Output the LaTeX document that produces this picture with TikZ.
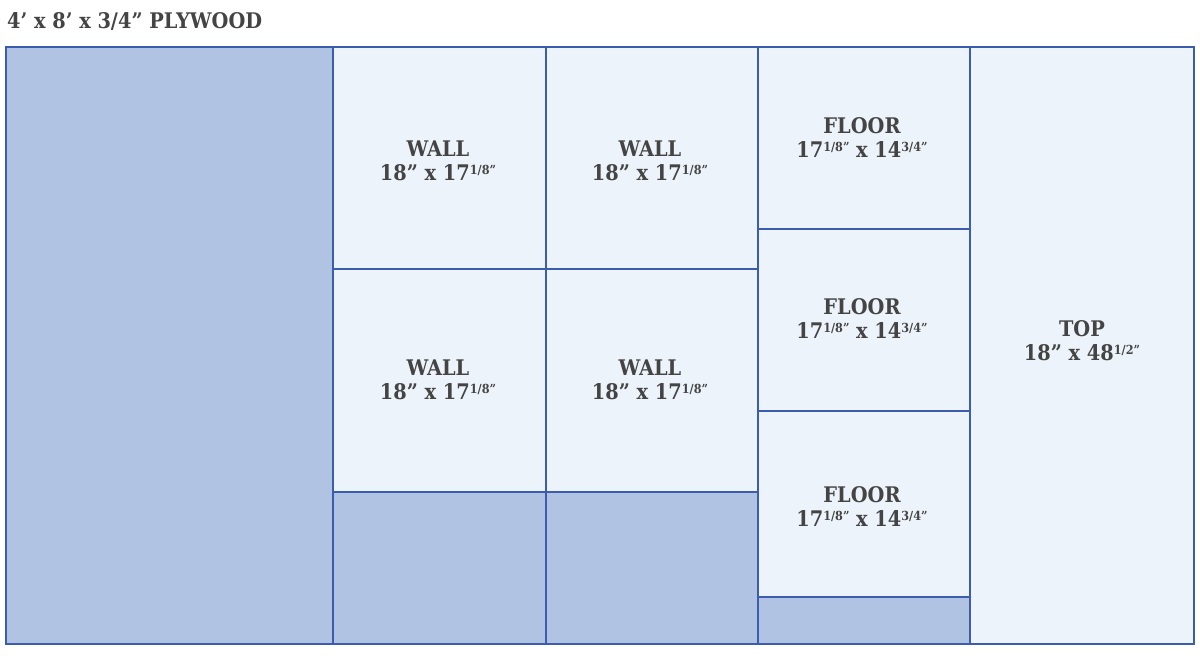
\documentclass[tikz,border=0pt]{standalone}
\usepackage{fontspec}
\setmainfont{DejaVu Serif Condensed}[BoldFont={DejaVu Serif Condensed Bold}]
\definecolor{lineblue}{HTML}{3C5DAE}
\definecolor{darkfill}{HTML}{B0C3E3}
\definecolor{lightfill}{HTML}{EDF3FA}
\definecolor{txt}{HTML}{444444}
\newcommand{\fr}[1]{\raisebox{0.55ex}{\fontsize{12.5}{12.5}\selectfont #1}}
\tikzset{
  piece/.style={draw=lineblue, line width=1.8pt},
  dark/.style={piece, fill=darkfill},
  light/.style={piece, fill=lightfill},
  lab/.style={text=txt, font=\bfseries\fontsize{21.5}{24}\selectfont, align=center, inner sep=0pt},
}
\begin{document}
\begin{tikzpicture}[x=1pt,y=-1pt]
\useasboundingbox (0,0) rectangle (1200,656);
\node[lab, anchor=base west] (title) at (7,28) {4’ x 8’ x 3/4” PLYWOOD};
% pieces
\draw[dark] (6,47) rectangle (333,644);
\draw[light] (333,47) rectangle (546,269);
\draw[light] (546,47) rectangle (758,269);
\draw[light] (333,269) rectangle (546,492);
\draw[light] (546,269) rectangle (758,492);
\draw[dark] (333,492) rectangle (546,644);
\draw[dark] (546,492) rectangle (758,644);
\draw[light] (758,47) rectangle (970,229);
\draw[light] (758,229) rectangle (970,411);
\draw[light] (758,411) rectangle (970,597);
\draw[dark] (758,597) rectangle (970,644);
\draw[light] (970,47) rectangle (1194,644);
\draw[piece] (6,47) rectangle (1194,644);
% labels
\node[lab] (w1) at (438,161) {WALL\\18” x 17\fr{1/8”}};
\node[lab] (w2) at (650,161) {WALL\\18” x 17\fr{1/8”}};
\node[lab] (w3) at (438,380) {WALL\\18” x 17\fr{1/8”}};
\node[lab] (w4) at (650,380) {WALL\\18” x 17\fr{1/8”}};
\node[lab] (f1) at (862,138) {FLOOR\\17\fr{1/8”} x 14\fr{3/4”}};
\node[lab] (f2) at (862,319) {FLOOR\\17\fr{1/8”} x 14\fr{3/4”}};
\node[lab] (f3) at (862,507) {FLOOR\\17\fr{1/8”} x 14\fr{3/4”}};
\node[lab] (t) at (1082,341) {TOP\\18” x 48\fr{1/2”}};
\end{tikzpicture}
\end{document}
